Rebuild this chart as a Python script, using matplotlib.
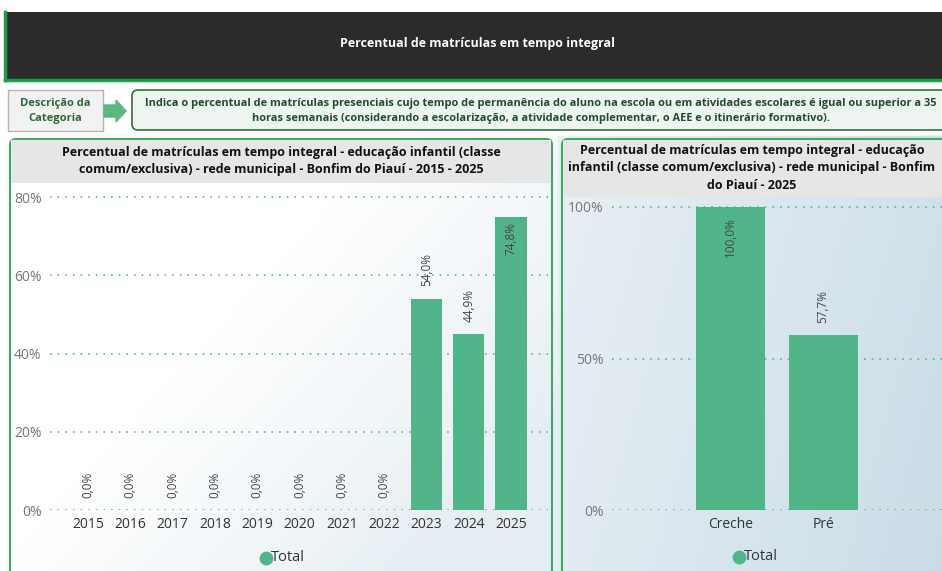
import numpy as np
import matplotlib
matplotlib.use("Agg")
import matplotlib.pyplot as plt
from matplotlib.patches import FancyBboxPatch, Rectangle, FancyArrow
from matplotlib.ticker import FuncFormatter

# ---- data ----
years = ["2015", "2016", "2017", "2018", "2019", "2020", "2021", "2022", "2023", "2024", "2025"]
pct_years = [0.0, 0.0, 0.0, 0.0, 0.0, 0.0, 0.0, 0.0, 54.0, 44.9, 74.8]
stages = ["Creche", "Pré"]
pct_stages = [100.0, 57.7]
left_yticks = [0, 20, 40, 60, 80]
right_yticks = [0, 50, 100]

header_title = "Percentual de matrículas em tempo integral"
desc_label = "Descrição da\nCategoria"
desc_text = ("Indica o percentual de matrículas presenciais cujo tempo de permanência do aluno na escola ou em atividades escolares é igual ou superior a 35\n"
             "horas semanais (considerando a escolarização, a atividade complementar, o AEE e o itinerário formativo).")
left_title = "Percentual de matrículas em tempo integral - educação infantil (classe\ncomum/exclusiva) - rede municipal - Bonfim do Piauí - 2015 - 2025"
right_title = "Percentual de matrículas em tempo integral - educação\ninfantil (classe comum/exclusiva) - rede municipal - Bonfim\ndo Piauí - 2025"

BAR = "#52B58A"
GRID = "#3fb56f"
W, H = 942, 571
plt.rcParams['font.family'] = ['Open Sans', 'DejaVu Sans']

fig = plt.figure(figsize=(W / 100, H / 100), dpi=100)

def fx(x):
    return x / W

def fy(y):
    return 1 - y / H

def box(x0, y0, x1, y1):
    return [fx(x0), fy(y1), fx(x1) - fx(x0), fy(y0) - fy(y1)]

# background gradient
bg = fig.add_axes([0, 0, 1, 1], zorder=-10)
gx = np.linspace(0, 1, 400)[None, :]
gy = np.linspace(0, 1, 240)[:, None]
t_left = np.clip((gx - 0.3) * 0.9 + (gy - 0.45) * 0.5, 0, 0.4)
t_right = np.clip(0.38 + (gx - 0.6) * 0.9 + (gy - 0.3) * 0.15, 0, 1)
t = np.where(gx < 0.592, t_left, t_right)
t = np.where(gy < 0.235, 0, t)
white = np.array([1.0, 1.0, 1.0])
blue = np.array([0.76, 0.84, 0.89])
img = white[None, None, :] * (1 - t[..., None]) + blue[None, None, :] * t[..., None]
bg.imshow(img, extent=[0, 1, 0, 1], aspect='auto', origin='upper')
bg.set_xlim(0, 1)
bg.set_ylim(0, 1)
bg.axis('off')

ov = fig.add_axes([0, 0, 1, 1], zorder=-5)
ov.set_xlim(0, W)
ov.set_ylim(H, 0)
ov.axis('off')
ov.patch.set_alpha(0)

# header
ov.add_patch(Rectangle((5, 12), 945, 68, facecolor="#2b2b2b", edgecolor="none"))
ov.plot([5, 5], [12, 80], color="#1e9b4e", lw=2.5)
ov.plot([5, 942], [80, 80], color="#1e9b4e", lw=2.5)
ov.text(478, 43, header_title, color="white", fontsize=9, fontweight="bold",
        ha="center", va="center")

# description label box
ov.add_patch(Rectangle((8, 90), 95, 41, facecolor="#f2f2f2", edgecolor="#b5b5b5", lw=1))
ov.text(55.5, 111, desc_label, color="#2d6a36", fontsize=8, fontweight="bold",
        ha="center", va="center", linespacing=1.5)
ov.add_patch(FancyArrow(104, 111, 22, 0, width=12, head_width=22, head_length=10,
                        length_includes_head=True, color="#5cb87f"))
ov.add_patch(FancyBboxPatch((132, 90), 830, 40, boxstyle="round,pad=0,rounding_size=6",
                            facecolor="#eef4ef", edgecolor="#3a6b45", lw=1.2))
ov.text(541, 111, desc_text, color="#1f4f2b", fontsize=7.9, fontweight="bold",
        ha="center", va="center", linespacing=1.5)

# panels
ov.add_patch(FancyBboxPatch((10, 139), 542, 450, boxstyle="round,pad=0,rounding_size=6",
                            facecolor="none", edgecolor="#3daa63", lw=1.5))
ov.add_patch(Rectangle((11, 140), 540, 43, facecolor="#e6e6e6", edgecolor="none"))
ov.text(281, 161, left_title, color="#111111", fontsize=9, fontweight="bold",
        ha="center", va="center", linespacing=1.45)

ov.add_patch(FancyBboxPatch((562, 139), 420, 450, boxstyle="round,pad=0,rounding_size=6",
                            facecolor="none", edgecolor="#3daa63", lw=1.5))
ov.add_patch(Rectangle((563, 140), 400, 57, facecolor="#e6e6e6", edgecolor="none"))
ov.text(752, 168, right_title, color="#111111", fontsize=9, fontweight="bold",
        ha="center", va="center", linespacing=1.45)

pctfmt = FuncFormatter(lambda v, p: f"{v:.0f}%")

def style_ax(ax, yticks):
    ax.patch.set_alpha(0)
    for s in ax.spines.values():
        s.set_visible(False)
    ax.set_yticks(yticks)
    ax.yaxis.set_major_formatter(pctfmt)
    ax.tick_params(axis='y', length=0, labelsize=10, labelcolor="#777777", pad=6)
    ax.tick_params(axis='x', length=0, labelsize=10, labelcolor="#333333", pad=5)
    ax.grid(axis='y', color=GRID, linestyle=(0, (1, 4)), lw=1.1)
    ax.set_axisbelow(True)

def add_legend(ax, xanchor):
    ax.scatter([], [], color=BAR, s=80, label="Total")
    ax.legend(loc="upper center", bbox_to_anchor=(xanchor, -0.085), frameon=False,
              fontsize=10.5, handletextpad=-0.3, handlelength=1.2, labelcolor="#333333")

# left chart
u = 42.3
axl = fig.add_axes(box(50, 510 - 82 * 313 / 80, 548, 510))
xs = np.arange(len(years))
axl.bar(xs, pct_years, width=31 / u, color=BAR, zorder=3)
axl.set_xlim((50 - 88) / u, (548 - 88) / u)
axl.set_ylim(0, 82)
axl.set_xticks(xs)
axl.set_xticklabels(years)
style_ax(axl, left_yticks)
for x, v in zip(xs, pct_years):
    lab = f"{v:.1f}%".replace(".", ",")
    if v > 70:
        axl.annotate(lab, (x, v), xytext=(0, -3), textcoords="offset points",
                     rotation=90, ha="center", va="top", fontsize=8.5, color="#444444")
    else:
        axl.annotate(lab, (x, v), xytext=(0, 9), textcoords="offset points",
                     rotation=90, ha="center", va="bottom", fontsize=8.5, color="#444444")
add_legend(axl, (281 - 50) / 498)

# right chart
u2 = 92.5
axr = fig.add_axes(box(612, 510 - 102 * 303 / 100, 942, 510))
xs2 = np.arange(len(stages))
axr.bar(xs2, pct_stages, width=69 / u2, color=BAR, zorder=3)
axr.set_xlim((612 - 730.5) / u2, (942 - 730.5) / u2)
axr.set_ylim(0, 102)
axr.set_xticks(xs2)
axr.set_xticklabels(stages)
style_ax(axr, right_yticks)
for x, v in zip(xs2, pct_stages):
    lab = f"{v:.1f}%".replace(".", ",")
    if v > 90:
        axr.annotate(lab, (x, v), xytext=(0, -7), textcoords="offset points",
                     rotation=90, ha="center", va="top", fontsize=8.5, color="#444444")
    else:
        axr.annotate(lab, (x, v), xytext=(0, 9), textcoords="offset points",
                     rotation=90, ha="center", va="bottom", fontsize=8.5, color="#444444")
add_legend(axr, (754 - 612) / 330)

fig.savefig("out.png", dpi=100)
